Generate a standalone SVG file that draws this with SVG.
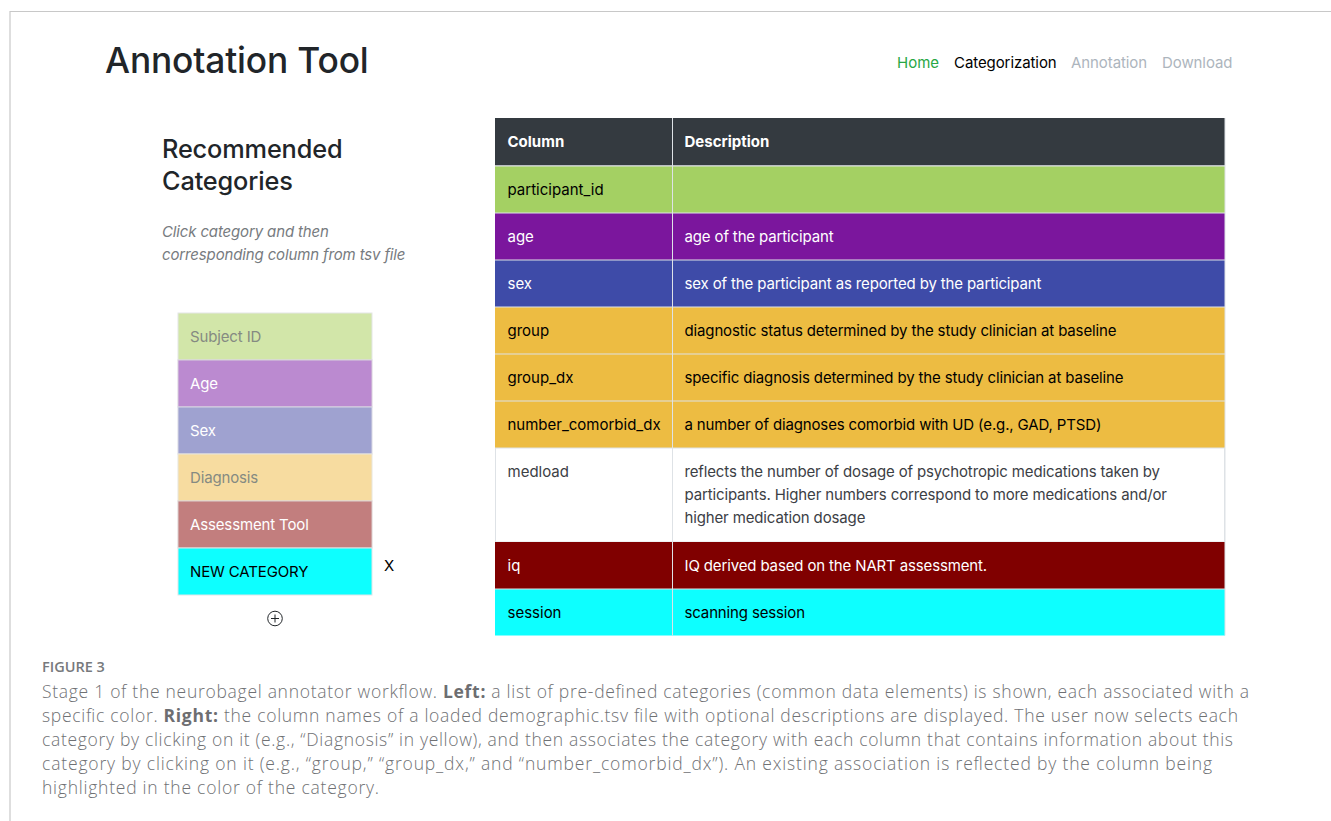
<svg xmlns="http://www.w3.org/2000/svg" width="1331" height="821" viewBox="0 0 1331 821">
<style>
text{font-family:Inter,"Liberation Sans",sans-serif;font-size:15px;fill:#212529;letter-spacing:-.14px}
.k{fill:#000}.w{fill:#fff}.g{fill:#858a82}.d{fill:#3c4045}
.c{letter-spacing:0}
.b{font-weight:700;fill:#fff;letter-spacing:0}
.cap{font-family:"Open Sans",Lato,sans-serif;font-size:17.500px;font-weight:300;fill:#6f7174;letter-spacing:0}
.cap tspan.s{font-weight:700;fill:#6d6e71}
.line{stroke:#dee2e6;stroke-width:1}
</style>
<rect width="1331" height="821" fill="#fff"/>
<path d="M10 821V11.500H1331" fill="none" stroke="#c8c8c8" stroke-width="1.200"/>
<g id="header">
<text x="105" y="73" style="font-size:35.300px;font-weight:500">Annotation Tool</text>
<text x="897" y="68" style="fill:#28a745" class="c">Home</text>
<text x="954" y="68" class="k" style="letter-spacing:-.08px">Categorization</text>
<text x="1071" y="68" style="fill:#adb5bd;letter-spacing:-.08px">Annotation</text>
<text x="1162" y="68" style="fill:#adb5bd;letter-spacing:-.08px">Download</text>
</g>
<g id="sidebar">
<text x="162" y="158" style="font-size:25.300px;font-weight:500">Recommended</text>
<text x="162" y="190" style="font-size:25.300px;font-weight:500">Categories</text>
<text x="162" y="237" style="font-style:italic;fill:#777b80">Click category and then</text>
<text x="162" y="260" style="font-style:italic;fill:#777b80">corresponding column from tsv file</text>
</g>
<g id="categories">
<g id="cat-subject"><rect x="178" y="313" width="194" height="47" fill="#d2e6a9" stroke="#e3e6e6"/><text x="190" y="342" class="g">Subject ID</text></g>
<g id="cat-age"><rect x="178" y="360" width="194" height="47" fill="#bb8ad0" stroke="#d8d0dc"/><text x="190" y="389" class="w">Age</text></g>
<g id="cat-sex"><rect x="178" y="407" width="194" height="47" fill="#9fa2d0" stroke="#d8d8e4"/><text x="190" y="436" class="w">Sex</text></g>
<g id="cat-diagnosis"><rect x="178" y="454" width="194" height="47" fill="#f7dca0" stroke="#e8e6dc"/><text x="190" y="483" class="g">Diagnosis</text></g>
<g id="cat-assessment"><rect x="178" y="501" width="194" height="47" fill="#c27e7e" stroke="#dcd0d0"/><text x="190" y="530" class="w">Assessment Tool</text></g>
<g id="cat-new"><rect x="178" y="548" width="194" height="47" fill="#0dffff" stroke="#dfe6e8"/><text x="190" y="577" class="k">NEW CATEGORY</text></g>
<g id="remove"><text x="384" y="571" class="k">X</text></g>
<g id="add"><circle cx="275" cy="618.500" r="7.300" fill="none" stroke="#212529" stroke-width="1"/><path d="M271 618.500H279M275 614.500V622.500" stroke="#212529" stroke-width="1" fill="none"/></g>
</g>
<g id="table">
<g id="th"><rect x="495" y="118" width="730" height="47.500" fill="#343a40"/><text x="507.500" y="147" class="b">Column</text><text x="684.500" y="147" class="b">Description</text></g>
<g id="r1"><rect x="495" y="166" width="730" height="47" fill="#a4d063"/><text x="507.500" y="195" class="k c">participant_id</text></g>
<g id="r2"><rect x="495" y="213" width="730" height="47" fill="#7b169d"/><text x="507.500" y="242" class="w c">age</text><text x="684.500" y="242" class="w">age of the participant</text></g>
<g id="r3"><rect x="495" y="260" width="730" height="47" fill="#3e4ba8"/><text x="507.500" y="289" class="w c">sex</text><text x="684.500" y="289" class="w">sex of the participant as reported by the participant</text></g>
<g id="r4"><rect x="495" y="307" width="730" height="47" fill="#edbc42"/><text x="507.500" y="336" class="k c">group</text><text x="684.500" y="336" class="k">diagnostic status determined by the study clinician at baseline</text></g>
<g id="r5"><rect x="495" y="354" width="730" height="47" fill="#edbc42"/><text x="507.500" y="383" class="k c">group_dx</text><text x="684.500" y="383" class="k">specific diagnosis determined by the study clinician at baseline</text></g>
<g id="r6"><rect x="495" y="401" width="730" height="47" fill="#edbc42"/><text x="507.500" y="430" class="k c">number_comorbid_dx</text><text x="684.500" y="430" class="k">a number of diagnoses comorbid with UD (e.g., GAD, PTSD)</text></g>
<g id="r7"><rect x="495.500" y="448" width="729" height="94" fill="#fff" stroke="#dee2e6"/><text x="507.500" y="477" class="c d">medload</text><text x="684.500" y="477" class="d">reflects the number of dosage of psychotropic medications taken by</text><text x="684.500" y="500" class="d">participants. Higher numbers correspond to more medications and/or</text><text x="684.500" y="523" class="d">higher medication dosage</text></g>
<g id="r8"><rect x="495" y="542" width="730" height="47" fill="#800000"/><text x="507.500" y="571" class="w c">iq</text><text x="684.500" y="571" class="w">IQ derived based on the NART assessment.</text></g>
<g id="r9"><rect x="495" y="589" width="730" height="46.500" fill="#0dffff"/><text x="507.500" y="618" class="k c">session</text><text x="684.500" y="618" class="k">scanning session</text></g>
<path class="line" d="M495 166H1225M495 213H1225M495 260H1225M495 307H1225M495 354H1225M495 401H1225M495 589H1225M672.500 118V635.500M1225 118V635.500"/>
</g>
<g id="caption">
<text x="42" y="672" class="cap" style="font-size:14.500px;font-weight:600;fill:#77797c">FIGURE 3</text>
<text x="42" y="698" class="cap" textLength="1207">Stage 1 of the neurobagel annotator workflow. <tspan class="s">Left:</tspan> a list of pre-defined categories (common data elements) is shown, each associated with a</text>
<text x="42" y="722" class="cap" textLength="1196">specific color. <tspan class="s">Right:</tspan> the column names of a loaded demographic.tsv file with optional descriptions are displayed. The user now selects each</text>
<text x="42" y="746" class="cap" textLength="1191">category by clicking on it (e.g., “Diagnosis” in yellow), and then associates the category with each column that contains information about this</text>
<text x="42" y="770" class="cap" textLength="1170">category by clicking on it (e.g., “group,” “group_dx,” and “number_comorbid_dx”). An existing association is reflected by the column being</text>
<text x="42" y="794" class="cap" textLength="337">highlighted in the color of the category.</text>
</g>
</svg>
